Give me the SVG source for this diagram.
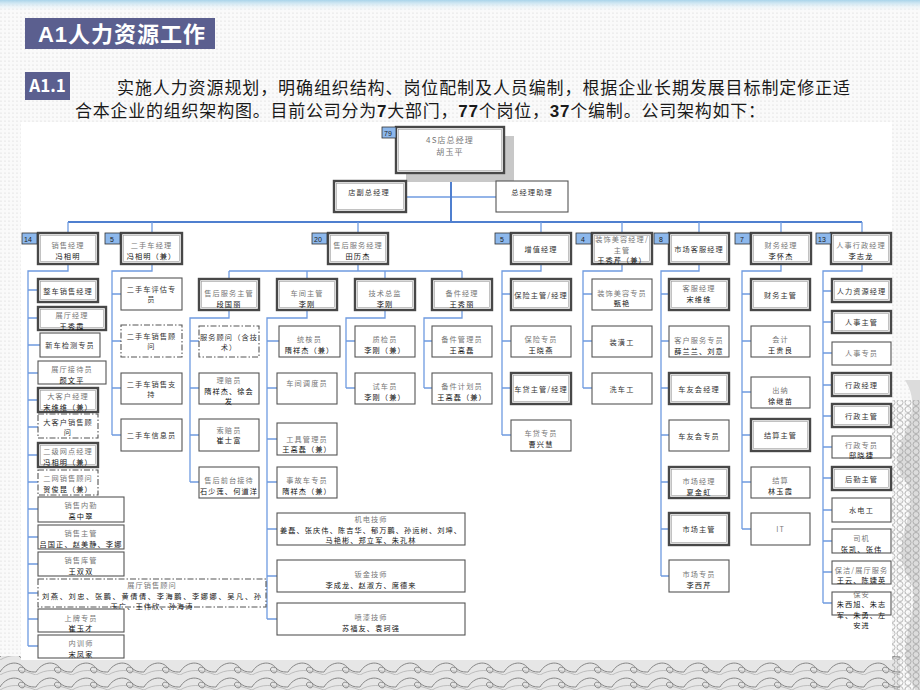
<svg xmlns="http://www.w3.org/2000/svg" width="920" height="690" viewBox="0 0 920 690">
<defs>
<style>
.b{fill:#fff;stroke:#555;stroke-width:1.1}
.d{fill:#fff;stroke:#484848;stroke-width:2.4}
.di{fill:none;stroke:#9a9a9a;stroke-width:0.6}
.dd{fill:#fff;stroke:#555;stroke-width:1.1;stroke-dasharray:6 2 1.5 2}
.bd{fill:#8db8ec;stroke:#333;stroke-width:0.8}
.c{fill:none;stroke:#6f9be0;stroke-width:1.3}
.bus{fill:none;stroke:#4f7fcf;stroke-width:2}
text{font-family:"Noto Sans CJK SC","Noto Sans",sans-serif}
.n,.g,.k{font-size:7.2px;letter-spacing:1.1px;text-anchor:middle}
.n{fill:#333}
.g{fill:#777}
.k{fill:#111}
.bt{font-size:7px;fill:#222;font-family:"Liberation Sans",sans-serif}
</style>
<pattern id="dots" width="4" height="4" patternUnits="userSpaceOnUse"><circle cx="1" cy="1" r="0.6" fill="#cfcfcf"/></pattern>
<linearGradient id="topband" x1="0" y1="0" x2="0" y2="1"><stop offset="0" stop-color="#a9d4ea"/><stop offset="1" stop-color="#ffffff" stop-opacity="0"/></linearGradient>
<pattern id="wave" width="36" height="15" patternUnits="userSpaceOnUse"><path d="M0 12 C6 2 18 0 24 8 C27 12 22 15 19 11 C17 8 21 6 23 8 M24 8 C28 12 32 12 36 12" fill="none" stroke="#7a7a7a" stroke-width="0.9"/><path d="M0 15 C10 9 20 9 36 15" fill="none" stroke="#a0a0a0" stroke-width="0.6"/></pattern>
<pattern id="scale" width="8" height="7" patternUnits="userSpaceOnUse"><circle cx="4" cy="3.5" r="3" fill="none" stroke="#8a8a8a" stroke-width="0.7"/></pattern>
</defs>

<rect x="0" y="0" width="920" height="690" fill="#fafafa"/>
<rect x="0" y="0" width="920" height="690" fill="url(#dots)"/>
<rect x="0" y="0" width="920" height="12" fill="url(#topband)"/>
<rect x="0" y="656" width="900" height="34" fill="#e6e6e6"/>
<rect x="0" y="656" width="900" height="34" fill="url(#wave)"/>
<path d="M905 380 C930 420 880 450 905 480 C925 510 885 540 910 580 C925 610 890 640 915 690 L920 690 L920 380 Z" fill="#dcdcdc"/>
<rect x="892" y="400" width="28" height="290" fill="url(#scale)" opacity="0.8"/>
<rect x="21" y="122" width="871" height="538" fill="#ffffff"/>

<g id="title">
<rect x="25" y="18" width="190" height="31" fill="#5b5f8f"/>
<text x="38" y="42" font-size="22" font-weight="bold" fill="#ffffff" textLength="167"><tspan font-family="Liberation Sans, sans-serif">A1</tspan>人力资源工作</text>
</g>
<g id="section">
<rect x="25" y="72" width="45" height="28" fill="#5b5f8f"/>
<text x="47.5" y="92" font-size="17" font-weight="bold" fill="#ffffff" text-anchor="middle" font-family="Liberation Sans, sans-serif">A1.1</text>
<text x="117" y="94" font-size="17" fill="#1a1a1a" textLength="733">实施人力资源规划，明确组织结构、岗位配制及人员编制，根据企业长期发展目标制定修正适</text>
<text x="75" y="117" font-size="17" fill="#1a1a1a" textLength="690">合本企业的组织架构图。目前公司分为<tspan font-family="Liberation Sans, sans-serif" font-weight="bold">7</tspan>大部门，<tspan font-family="Liberation Sans, sans-serif" font-weight="bold">77</tspan>个岗位，<tspan font-family="Liberation Sans, sans-serif" font-weight="bold">37</tspan>个编制。公司架构如下：</text>
</g>

<g id="connectors">
<path class="c" d="M406 197 H496"/>
<path class="bus" d="M451 173 V222 M68 222 H862"/>
<path class="c" d="M68 222 V233 M152 222 V233 M358 222 V233 M541 222 V233 M622 222 V233 M699 222 V233 M781 222 V233 M862 222 V233"/>
<path class="c" d="M68 264 V271 H28 V646 M28 290 H38 M28 318 H38 M28 345 H40 M28 373 H38 M28 400 H38 M28 427 H38 M28 455 H38 M28 482 H38 M28 509 H38 M28 537 H38 M28 564 H38 M28 593 H38 M28 619 H38 M28 646 H38"/>
<path class="c" d="M152 264 V271 H112 V435 M112 294 H121 M112 341 H121 M112 388 H121 M112 435 H121"/>
<path class="c" d="M358 264 V271 M229 271 H462 M229 271 V279 M307 271 V279 M385 271 V279 M462 271 V279"/>
<path class="c" d="M229 310 V318 H190 V482 M190 341 H199 M190 388 H199 M190 435 H199 M190 482 H199"/>
<path class="c" d="M307 310 V318 H267 V619 M267 341 H279 M267 388 H277 M267 439 H277 M267 482 H277 M267 529 H277 M267 576 H277 M267 619 H277"/>
<path class="c" d="M385 310 V318 H346 V388 M346 341 H355 M346 388 H355"/>
<path class="c" d="M462 310 V318 H424 V388 M424 341 H432 M424 388 H432"/>
<path class="c" d="M541 264 V271 H502 V435 M502 294 H511 M502 341 H511 M502 388 H511 M502 435 H511"/>
<path class="c" d="M622 264 V271 H583 V388 M583 294 H592 M583 341 H592 M583 388 H592"/>
<path class="c" d="M699 264 V271 H661 V576 M661 294 H669 M661 341 H669 M661 388 H669 M661 435 H669 M661 482 H669 M661 529 H669 M661 576 H669"/>
<path class="c" d="M781 264 V271 H742 V529 M742 294 H751 M742 341 H751 M742 392 H751 M742 435 H751 M742 482 H751 M742 529 H751"/>
<path class="c" d="M862 264 V271 H823 V603 M823 291 H832 M823 322 H832 M823 353 H832 M823 385 H832 M823 416 H832 M823 447 H832 M823 478 H832 M823 510 H832 M823 541 H832 M823 572 H832 M823 603 H832"/>
</g>

<g id="gm">
<rect x="406" y="136" width="108" height="46" fill="#c8c8c8"/>
<rect class="d" x="396" y="127" width="108" height="46"/><rect class="di" x="398.5" y="129.5" width="103" height="41"/>
<rect class="bd" x="382" y="127" width="14" height="11"/><text class="bt" x="384" y="136">79</text>
<text class="g" x="450" y="143" style="font-size:8px">4S店总经理</text>
<text class="g" x="450" y="155" style="font-size:8px">胡玉平</text>
</g>
<g id="vgm"><rect class="d" x="334" y="181" width="72" height="31"/><rect class="di" x="336.5" y="183.5" width="67" height="26"/><text class="n" x="369" y="195">店副总经理</text></g>
<g id="asst"><rect class="b" x="496" y="181" width="72" height="31"/><text class="n" x="532" y="195">总经理助理</text></g>

<g id="dept-sales"><rect class="d" x="38" y="233" width="60" height="31"/><rect class="di" x="40.5" y="235.5" width="55" height="26"/><rect class="bd" x="22" y="233" width="15" height="11"/><text class="bt" x="24" y="242">14</text><text class="g" x="68" y="248">销售经理</text><text class="k" x="68" y="258.5">冯相明</text></g>
<g id="dept-used"><rect class="d" x="121" y="233" width="61" height="31"/><rect class="di" x="123.5" y="235.5" width="56" height="26"/><rect class="bd" x="105" y="233" width="15" height="11"/><text class="bt" x="110" y="242">5</text><text class="g" x="151.5" y="248">二手车经理</text><text class="k" x="151.5" y="258.5">冯相明（兼）</text></g>
<g id="dept-after"><rect class="d" x="328" y="233" width="60" height="31"/><rect class="di" x="330.5" y="235.5" width="55" height="26"/><rect class="bd" x="312" y="233" width="15" height="11"/><text class="bt" x="314" y="242">20</text><text class="g" x="358" y="248">售后服务经理</text><text class="k" x="358" y="258.5">田历杰</text></g>
<g id="dept-value"><rect class="d" x="511" y="233" width="60" height="31"/><rect class="di" x="513.5" y="235.5" width="55" height="26"/><rect class="bd" x="495" y="233" width="15" height="11"/><text class="bt" x="500" y="242">5</text><text class="n" x="541" y="251.5">增值经理</text></g>
<g id="dept-deco"><rect class="d" x="592" y="233" width="60" height="31"/><rect class="di" x="594.5" y="235.5" width="55" height="26"/><rect class="bd" x="576" y="233" width="15" height="11"/><text class="bt" x="581" y="242">4</text><text class="g" x="622" y="242">装饰美容经理/</text><text class="g" x="622" y="252.5">主管</text><text class="k" x="622" y="263">王秀芹（兼）</text></g>
<g id="dept-market"><rect class="d" x="669" y="233" width="60" height="31"/><rect class="di" x="671.5" y="235.5" width="55" height="26"/><rect class="bd" x="654" y="233" width="15" height="11"/><text class="bt" x="659" y="242">8</text><text class="n" x="699" y="251.5">市场客服经理</text></g>
<g id="dept-fin"><rect class="d" x="751" y="233" width="60" height="31"/><rect class="di" x="753.5" y="235.5" width="55" height="26"/><rect class="bd" x="735" y="233" width="15" height="11"/><text class="bt" x="740" y="242">7</text><text class="g" x="781" y="248">财务经理</text><text class="k" x="781" y="258.5">李怀杰</text></g>
<g id="dept-hr"><rect class="d" x="831" y="233" width="60" height="31"/><rect class="di" x="833.5" y="235.5" width="55" height="26"/><rect class="bd" x="816" y="233" width="15" height="11"/><text class="bt" x="818" y="242">13</text><text class="g" x="861" y="248">人事行政经理</text><text class="k" x="861" y="258.5">李志龙</text></g>

<g id="s1"><rect class="d" x="38" y="279" width="60" height="23"/><rect class="di" x="40.5" y="281.5" width="55" height="18"/><text class="n" x="68" y="293.5">整车销售经理</text></g>
<g id="s2"><rect class="d" x="38" y="307" width="68" height="23"/><rect class="di" x="40.5" y="309.5" width="63" height="18"/><text class="g" x="72" y="318">展厅经理</text><text class="k" x="72" y="328.5">王秀霞</text></g>
<g id="s3"><rect class="b" x="40" y="333" width="60" height="24"/><text class="n" x="70" y="348">新车检测专员</text></g>
<g id="s4"><rect class="b" x="38" y="361" width="68" height="23"/><text class="g" x="72" y="372">展厅接待员</text><text class="k" x="72" y="382.5">颜文平</text></g>
<g id="s5"><rect class="d" x="38" y="388" width="60" height="24"/><rect class="di" x="40.5" y="390.5" width="55" height="19"/><text class="g" x="68" y="399">大客户经理</text><text class="k" x="68" y="409.5">宋维维（兼）</text></g>
<g id="s6"><rect class="dd" x="38" y="414" width="60" height="24"/><text class="n" x="68" y="424.5">大客户销售顾</text><text class="n" x="68" y="435">问</text></g>
<g id="s7"><rect class="d" x="38" y="443" width="60" height="24"/><rect class="di" x="40.5" y="445.5" width="55" height="19"/><text class="g" x="68" y="454">二级网点经理</text><text class="k" x="68" y="464.5">冯相明（兼）</text></g>
<g id="s8"><rect class="dd" x="38" y="470" width="60" height="25"/><text class="g" x="68" y="481">二网销售顾问</text><text class="k" x="68" y="491.5">贺俊昆（兼）</text></g>
<g id="s9"><rect class="b" x="38" y="497" width="86" height="25"/><text class="g" x="81" y="508">销售内勤</text><text class="k" x="81" y="518.5">高中翠</text></g>
<g id="s10"><rect class="b" x="38" y="525" width="86" height="24"/><text class="g" x="81" y="536">销售主管</text><text class="k" x="81" y="546.5">吕国正、赵美静、李娜</text></g>
<g id="s11"><rect class="b" x="38" y="552" width="86" height="24"/><text class="g" x="81" y="563">销售库管</text><text class="k" x="81" y="573.5">王双双</text></g>
<g id="s12"><rect class="dd" x="38" y="579" width="228" height="28"/><text class="g" x="152" y="588">展厅销售顾问</text><text class="k" x="152" y="598.5" textLength="220">刘燕、刘忠、张鹏、黄倩倩、李海鹏、李娜娜、吴凡、孙</text><text class="k" x="152" y="609">玉广、王伟欣、孙海涛</text></g>
<g id="s13"><rect class="b" x="38" y="609" width="86" height="23"/><text class="g" x="81" y="620.5">上牌专员</text><text class="k" x="81" y="631">崔玉才</text></g>
<g id="s14"><rect class="b" x="38" y="635" width="86" height="23"/><text class="g" x="81" y="646">内训师</text><text class="k" x="81" y="656.5">宋凤家</text></g>

<g id="u1"><rect class="b" x="121" y="278" width="61" height="32"/><text class="n" x="151.5" y="291.5">二手车评估专</text><text class="n" x="151.5" y="302">员</text></g>
<g id="u2"><rect class="dd" x="121" y="325" width="61" height="32"/><text class="n" x="151.5" y="338.5">二手车销售顾</text><text class="n" x="151.5" y="349">问</text></g>
<g id="u3"><rect class="b" x="121" y="373" width="61" height="31"/><text class="n" x="151.5" y="386.5">二手车销售支</text><text class="n" x="151.5" y="397">持</text></g>
<g id="u4"><rect class="b" x="121" y="419" width="61" height="32"/><text class="n" x="151.5" y="438">二手车信息员</text></g>

<g id="a0"><rect class="d" x="199" y="279" width="60" height="31"/><rect class="di" x="201.5" y="281.5" width="55" height="26"/><text class="g" x="229" y="296">售后服务主管</text><text class="k" x="229" y="306.5">段国丽</text></g>
<g id="a1"><rect class="dd" x="199" y="326" width="60" height="31"/><text class="n" x="229" y="339.5">服务顾问（含技</text><text class="n" x="229" y="350">术）</text></g>
<g id="a2"><rect class="b" x="199" y="373" width="60" height="31"/><text class="g" x="229" y="383">理赔员</text><text class="k" x="229" y="393.5">隋祥杰、徐会</text><text class="k" x="229" y="404">发</text></g>
<g id="a3"><rect class="b" x="199" y="419" width="60" height="32"/><text class="g" x="229" y="432.5">索赔员</text><text class="k" x="229" y="443">崔士富</text></g>
<g id="a4"><rect class="b" x="199" y="467" width="60" height="31"/><text class="g" x="229" y="483">售后前台接待</text><text class="k" x="229" y="493.5">石少莲、何道洋</text></g>

<g id="w0"><rect class="d" x="277" y="279" width="60" height="31"/><rect class="di" x="279.5" y="281.5" width="55" height="26"/><text class="g" x="307" y="296">车间主管</text><text class="k" x="307" y="306.5">李刚</text></g>
<g id="w1"><rect class="b" x="279" y="326" width="61" height="31"/><text class="g" x="309.5" y="342">统核员</text><text class="k" x="309.5" y="352.5">隋祥杰（兼）</text></g>
<g id="w2"><rect class="b" x="277" y="373" width="60" height="31"/><text class="g" x="307" y="386">车间调度员</text></g>
<g id="w3"><rect class="b" x="277" y="423" width="60" height="32"/><text class="g" x="307" y="441.5">工具管理员</text><text class="k" x="307" y="452">王高磊（兼）</text></g>
<g id="w4"><rect class="b" x="277" y="467" width="60" height="31"/><text class="g" x="307" y="483">事故车专员</text><text class="k" x="307" y="493.5">隋祥杰（兼）</text></g>
<g id="w5"><rect class="b" x="277" y="513" width="188" height="32"/><text class="g" x="371" y="522">机电技师</text><text class="k" x="371" y="532.5" textLength="182">姜磊、张庆伟、陈吉华、郁万鹏、孙运树、刘坤、</text><text class="k" x="371" y="543">马艳彬、郑立军、朱孔林</text></g>
<g id="w6"><rect class="b" x="277" y="560" width="188" height="32"/><text class="g" x="371" y="577">钣金技师</text><text class="k" x="371" y="587.5">李成龙、赵淑方、席德来</text></g>
<g id="w7"><rect class="b" x="277" y="603" width="188" height="32"/><text class="g" x="371" y="620">喷漆技师</text><text class="k" x="371" y="630.5">苏福友、袁珂强</text></g>

<g id="t0"><rect class="d" x="355" y="279" width="60" height="31"/><rect class="di" x="357.5" y="281.5" width="55" height="26"/><text class="g" x="385" y="296">技术总监</text><text class="k" x="385" y="306.5">李刚</text></g>
<g id="t1"><rect class="b" x="355" y="326" width="60" height="31"/><text class="g" x="385" y="342">质检员</text><text class="k" x="385" y="352.5">李刚（兼）</text></g>
<g id="t2"><rect class="b" x="355" y="373" width="60" height="31"/><text class="g" x="385" y="389">试车员</text><text class="k" x="385" y="399.5">李刚（兼）</text></g>

<g id="p0"><rect class="d" x="432" y="279" width="60" height="31"/><rect class="di" x="434.5" y="281.5" width="55" height="26"/><text class="g" x="462" y="296">备件经理</text><text class="k" x="462" y="306.5">王秀丽</text></g>
<g id="p1"><rect class="b" x="432" y="326" width="60" height="31"/><text class="g" x="462" y="342">备件管理员</text><text class="k" x="462" y="352.5">王高磊</text></g>
<g id="p2"><rect class="b" x="432" y="373" width="60" height="31"/><text class="g" x="462" y="389">备件计划员</text><text class="k" x="462" y="399.5">王高磊（兼）</text></g>

<g id="v1"><rect class="d" x="511" y="279" width="60" height="31"/><rect class="di" x="513.5" y="281.5" width="55" height="26"/><text class="n" x="541" y="297.5">保险主管/经理</text></g>
<g id="v2"><rect class="b" x="511" y="326" width="60" height="31"/><text class="g" x="541" y="342">保险专员</text><text class="k" x="541" y="352.5">王晓燕</text></g>
<g id="v3"><rect class="d" x="511" y="373" width="60" height="31"/><rect class="di" x="513.5" y="375.5" width="55" height="26"/><text class="n" x="541" y="391.5">车贷主管/经理</text></g>
<g id="v4"><rect class="b" x="511" y="420" width="60" height="31"/><text class="g" x="541" y="436">车贷专员</text><text class="k" x="541" y="446.5">曹兴慧</text></g>

<g id="e1"><rect class="b" x="592" y="279" width="60" height="31"/><text class="g" x="622" y="295.5">装饰美容专员</text><text class="k" x="622" y="306">甄艳</text></g>
<g id="e2"><rect class="b" x="592" y="326" width="60" height="31"/><text class="n" x="622" y="344.5">装潢工</text></g>
<g id="e3"><rect class="b" x="592" y="373" width="60" height="31"/><text class="n" x="622" y="391.5">洗车工</text></g>

<g id="m1"><rect class="d" x="669" y="279" width="60" height="31"/><rect class="di" x="671.5" y="281.5" width="55" height="26"/><text class="g" x="699" y="291">客服经理</text><text class="k" x="699" y="301.5">宋维维</text></g>
<g id="m2"><rect class="b" x="669" y="326" width="60" height="31"/><text class="g" x="699" y="343">客户服务专员</text><text class="k" x="699" y="353.5">薛兰兰、刘意</text></g>
<g id="m3"><rect class="d" x="669" y="373" width="60" height="31"/><rect class="di" x="671.5" y="375.5" width="55" height="26"/><text class="n" x="699" y="391.5">车友会经理</text></g>
<g id="m4"><rect class="b" x="669" y="420" width="60" height="31"/><text class="n" x="699" y="438.5">车友会专员</text></g>
<g id="m5"><rect class="d" x="669" y="467" width="60" height="31"/><rect class="di" x="671.5" y="469.5" width="55" height="26"/><text class="g" x="699" y="484">市场经理</text><text class="k" x="699" y="494.5">夏金虹</text></g>
<g id="m6"><rect class="d" x="669" y="513" width="60" height="32"/><rect class="di" x="671.5" y="515.5" width="55" height="27"/><text class="n" x="699" y="532">市场主管</text></g>
<g id="m7"><rect class="b" x="669" y="560" width="60" height="32"/><text class="g" x="699" y="577">市场专员</text><text class="k" x="699" y="587.5">李西芹</text></g>

<g id="f1"><rect class="d" x="751" y="279" width="59" height="31"/><rect class="di" x="753.5" y="281.5" width="54" height="26"/><text class="n" x="780.5" y="297.5">财务主管</text></g>
<g id="f2"><rect class="b" x="751" y="326" width="59" height="31"/><text class="g" x="780.5" y="342">会计</text><text class="k" x="780.5" y="352.5">王贵良</text></g>
<g id="f3"><rect class="b" x="751" y="377" width="59" height="31"/><text class="g" x="780.5" y="393">出纳</text><text class="k" x="780.5" y="403.5">徐继苗</text></g>
<g id="f4"><rect class="d" x="751" y="419" width="59" height="32"/><rect class="di" x="753.5" y="421.5" width="54" height="27"/><text class="n" x="780.5" y="438">结算主管</text></g>
<g id="f5"><rect class="b" x="751" y="467" width="59" height="31"/><text class="g" x="780.5" y="483">结算</text><text class="k" x="780.5" y="493.5">林玉霞</text></g>
<g id="f6"><rect class="b" x="751" y="513" width="59" height="32"/><text class="g" x="780.5" y="532">IT</text></g>

<g id="h1"><rect class="d" x="832" y="279" width="59" height="23"/><rect class="di" x="834.5" y="281.5" width="54" height="18"/><text class="n" x="861.5" y="293.5">人力资源经理</text></g>
<g id="h2"><rect class="d" x="832" y="311" width="59" height="22"/><rect class="di" x="834.5" y="313.5" width="54" height="17"/><text class="n" x="861.5" y="325">人事主管</text></g>
<g id="h3"><rect class="b" x="832" y="342" width="59" height="23"/><text class="g" x="861.5" y="356">人事专员</text></g>
<g id="h4"><rect class="d" x="832" y="373" width="59" height="23"/><rect class="di" x="834.5" y="375.5" width="54" height="18"/><text class="n" x="861.5" y="387.5">行政经理</text></g>
<g id="h5"><rect class="d" x="832" y="404" width="59" height="23"/><rect class="di" x="834.5" y="406.5" width="54" height="18"/><text class="n" x="861.5" y="418.5">行政主管</text></g>
<g id="h6"><rect class="b" x="832" y="436" width="59" height="22"/><text class="g" x="861.5" y="447.5">行政专员</text><text class="k" x="861.5" y="458">邸晓捷</text></g>
<g id="h7"><rect class="d" x="832" y="467" width="59" height="23"/><rect class="di" x="834.5" y="469.5" width="54" height="18"/><text class="n" x="861.5" y="481.5">后勤主管</text></g>
<g id="h8"><rect class="b" x="832" y="498" width="59" height="24"/><text class="n" x="861.5" y="513">水电工</text></g>
<g id="h9"><rect class="b" x="832" y="529" width="59" height="24"/><text class="g" x="861.5" y="541">司机</text><text class="k" x="861.5" y="551.5">张凯、张伟</text></g>
<g id="h10"><rect class="b" x="832" y="561" width="59" height="23"/><text class="g" x="861.5" y="572.5">保洁/展厅服务</text><text class="k" x="861.5" y="583">王云、陈婕英</text></g>
<g id="h11"><rect class="b" x="832" y="592" width="59" height="23"/><text class="g" x="861.5" y="596.5">保安</text><text class="k" x="861.5" y="607">朱西旭、朱志</text><text class="k" x="861.5" y="617.5">军、朱勇、左</text><text class="k" x="861.5" y="628">安进</text></g>
</svg>
